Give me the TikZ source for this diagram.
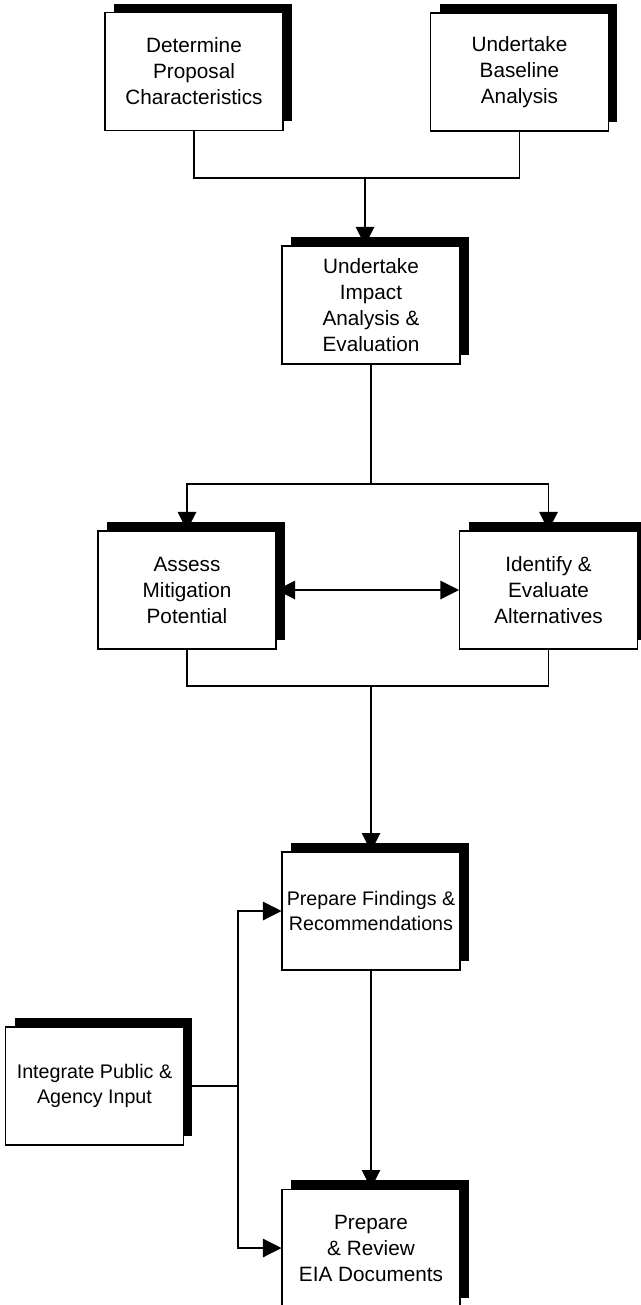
\documentclass[tikz,border=0pt]{standalone}
\usepackage{fontspec}
\setmainfont{Liberation Sans}
\usetikzlibrary{positioning, arrows.meta, shadows, calc}

\begin{document}
\begin{tikzpicture}[
  x=0.02cm, y=-0.02cm,
  >={Triangle[length=0.37cm, width=0.37cm]},
  stepbox/.style={draw, fill=white, line width=0.6pt, minimum width=3.56cm,
    minimum height=2.36cm, align=center, inner sep=1pt,
    font=\fontsize{11.8}{14.8}\selectfont,
    general shadow={fill=black, shadow xshift=0.18cm, shadow yshift=0.18cm}},
  widebox/.style={stepbox, font=\fontsize{11.2}{13.8}\selectfont},
  link/.style={line width=0.6pt},
  arrow/.style={->, line width=0.6pt},
  darrow/.style={<->, line width=0.6pt},
]
\useasboundingbox (0,0) rectangle (641,1305);

% ===== Inputs =====
\node[stepbox] (propose) at (194, 71.5) {Determine\\Proposal\\Characteristics};
\node[stepbox] (baseline) at (519.5, 72) {Undertake\\Baseline\\Analysis};

% ===== Impact analysis =====
\node[stepbox] (impact) at (371, 305) {Undertake\\Impact\\Analysis \&\\Evaluation};

% Mitigation and alternatives
\node[stepbox] (mitig) at (187, 590) {Assess\\Mitigation\\Potential};
\node[stepbox] (altern) at (548.5, 590) {Identify \&\\Evaluate\\Alternatives};

% ===== Outputs =====
\node[widebox] (findings) at (371, 911) {Prepare Findings \&\\Recommendations};
\node[widebox] (public) at (94.5, 1086) {Integrate Public \&\\Agency Input};
\node[stepbox] (review) at (371, 1248) {Prepare\\\& Review\\EIA Documents};

% Junctions
\coordinate (topjoin) at (365, 178);
\coordinate (split) at (371, 484);
\coordinate (merge) at (371, 686);
\coordinate (feed) at (238, 1086);

% Arrows
\draw[link] (propose.south) |- (topjoin) -| (baseline.south);
\draw[arrow] (topjoin) -- (topjoin |- impact.north);

\draw[link] (impact.south) -- (split);
\draw[arrow] (split) -| (mitig.north);
\draw[arrow] (split) -| (altern.north);
\draw[darrow] (mitig.east) -- (altern.west);

\draw[link] (mitig.south) |- (merge) -| (altern.south);
\draw[arrow] (merge) -- (findings.north);
\draw[arrow] (findings.south) -- (review.north);

\draw[link] (public.east) -- (feed);
\draw[arrow] (feed) |- (findings.west);
\draw[arrow] (feed) |- (review.west);

\end{tikzpicture}
\end{document}
